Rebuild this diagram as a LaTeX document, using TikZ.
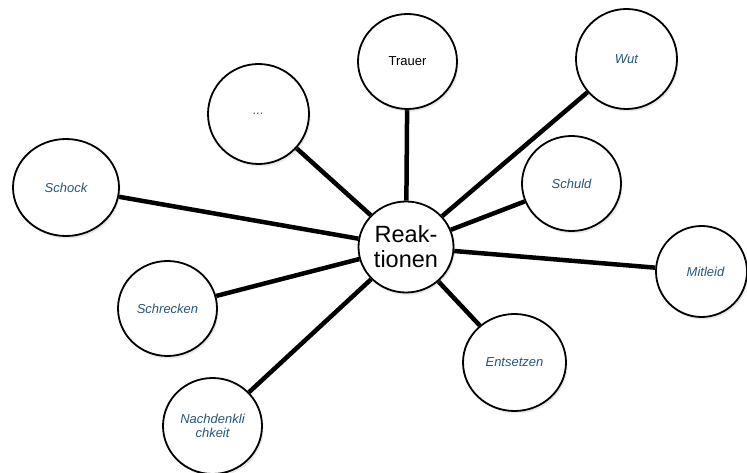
\documentclass[tikz,border=0pt]{standalone}
\usepackage{fontspec}
\setmainfont{Liberation Sans}
\usetikzlibrary{shadows,shapes.geometric,backgrounds}
\definecolor{lbl}{RGB}{38,88,122}
\begin{document}
\begin{tikzpicture}[x=1pt,y=-1pt,
  bub/.style={ellipse, draw=black, line width=1.8pt, fill=white, inner sep=0pt, align=center,
    font=\fontsize{13}{14}\selectfont\itshape, text=lbl,
    drop shadow={opacity=0.18, shadow xshift=1.5pt, shadow yshift=-2.5pt}},
  sz/.style 2 args={minimum width=#1pt, minimum height=#2pt},
  hub/.style={ellipse, draw=black, line width=1.8pt, fill=white, minimum width=95pt, minimum height=91pt, inner sep=0pt,
    align=center, font=\fontsize{23.5}{25}\selectfont, text=black,
    drop shadow={opacity=0.18, shadow xshift=1.5pt, shadow yshift=-2.5pt}},
  link/.style={line width=4.5pt, draw=black}]
\useasboundingbox (0,0) rectangle (747,473);
\node[hub] (c) at (406,247) {Reak-\\tionen};
\node[bub, sz={99}{95}, text=black, font=\fontsize{13}{14}\selectfont] (trauer) at (407.5,61.5) {Trauer};
\node[bub, sz={101}{100}] (wut) at (626.5,59) {Wut};
\node[bub, sz={101}{100}] (dots) at (258.5,114) {...};
\node[bub, sz={106}{97}] (schock) at (66,187.5) {Schock};
\node[bub, sz={99}{95}] (schuld) at (571.5,183.5) {Schuld};
\node[bub, sz={91}{91}] (mitleid) at (701.5,271.5) {\hspace*{8pt}Mitleid};
\node[bub, sz={99}{95}] (schrecken) at (167.5,308.5) {Schrecken};
\node[bub, sz={103}{97}] (entsetzen) at (514.5,362.5) {Entsetzen};
\node[bub, sz={99}{96}] (nach) at (212.5,426) {Nachdenkli\\chkeit};
\begin{scope}[on background layer]
\foreach \n in {trauer,wut,dots,schock,schuld,mitleid,schrecken,entsetzen,nach}
  \draw[link] (c) -- (\n);
\end{scope}
\end{tikzpicture}
\end{document}
